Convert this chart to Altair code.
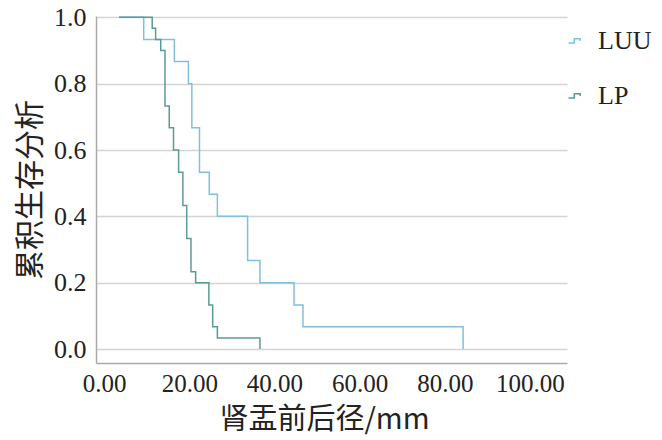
import altair as alt
import pandas as pd

# Kaplan-Meier step points
luu_t = [3.5, 9.3, 16.5, 19.8, 20.6, 22.4, 24.7, 26.6, 33.7, 36.6, 44.6, 46.7, 84.3]
luu_s = [1.0, 0.933, 0.867, 0.8, 0.667, 0.533, 0.467, 0.4, 0.267, 0.2, 0.133, 0.067, 0.0]

lp_t = [3.5, 11.3, 12.1, 13.3, 14.3, 15.3, 16.3, 17.5, 18.5, 19.4, 20.4, 21.5, 24.6, 25.5, 26.6, 36.6]
lp_s = [1.0, 0.967, 0.933, 0.9, 0.733, 0.667, 0.6, 0.533, 0.433, 0.333, 0.233, 0.2, 0.133, 0.067, 0.033, 0.0]

groups = ["LUU", "LP"]
colors = ["#80c0dc", "#5c9a96"]
x_ticks = [0, 20, 40, 60, 80, 100]
y_ticks = [0.0, 0.2, 0.4, 0.6, 0.8, 1.0]

rows = []
for i, (t, s) in enumerate(zip(luu_t, luu_s)):
    rows.append({"t": t, "s": s, "g": "LUU", "o": i})
for i, (t, s) in enumerate(zip(lp_t, lp_s)):
    rows.append({"t": t, "s": s, "g": "LP", "o": i})
df = pd.DataFrame(rows)

LATIN = "Liberation Serif, Noto Sans CJK SC"

step_path = "M-1,0.3L-0.1,0.3L-0.1,-0.35L0.8,-0.35L0.8,0"

chart = alt.Chart(df).mark_line(interpolate="step-after", strokeWidth=1.5).encode(
    x=alt.X("t:Q",
            scale=alt.Scale(domain=[-1.9, 108.7], nice=False, zero=False),
            axis=alt.Axis(values=x_ticks, format=".2f", title="肾盂前后径/mm",
                          grid=False, ticks=False, labelFontSize=25,
                          labelFont=LATIN, labelColor="#222", labelPadding=8,
                          titleFont="Noto Sans CJK SC", titleFontSize=29,
                          titleFontWeight="normal", titleColor="#222",
                          titlePadding=9, titleX=228, domainColor="#aaaaaa",
                          domainWidth=1.5, labelFlush=False)),
    y=alt.Y("s:Q",
            scale=alt.Scale(domain=[-0.042, 1.004], nice=False, zero=False),
            axis=alt.Axis(values=y_ticks, format=".1f", title="累积生存分析",
                          grid=True, gridColor="#d4d4d4", gridWidth=1.5,
                          ticks=False, labelFontSize=26, labelFont=LATIN,
                          labelColor="#222", labelPadding=10,
                          titleFont="Noto Sans CJK SC", titleFontSize=30,
                          titleFontWeight="normal", titleColor="#222",
                          titleX=-66, titleBaseline="middle",
                          domainColor="#aaaaaa",
                          domainWidth=1.5, labelFlush=False)),
    color=alt.Color("g:N", sort=groups,
                    scale=alt.Scale(domain=groups, range=colors),
                    legend=alt.Legend(title=None, orient="none", legendX=466,
                                      legendY=12, symbolType=step_path,
                                      symbolSize=170, symbolStrokeWidth=1.5,
                                      labelFontSize=26, labelFont=LATIN,
                                      labelColor="#222", rowPadding=29,
                                      labelOffset=10)),
    order="o:Q",
).properties(
    width=471, height=347,
    autosize=alt.AutoSizeParams(type="none"),
    padding={"left": 88, "top": 8, "right": 87, "bottom": 77},
).configure_view(stroke=None)

chart.save("out.html", embed_options={"renderer": "svg", "actions": False})
